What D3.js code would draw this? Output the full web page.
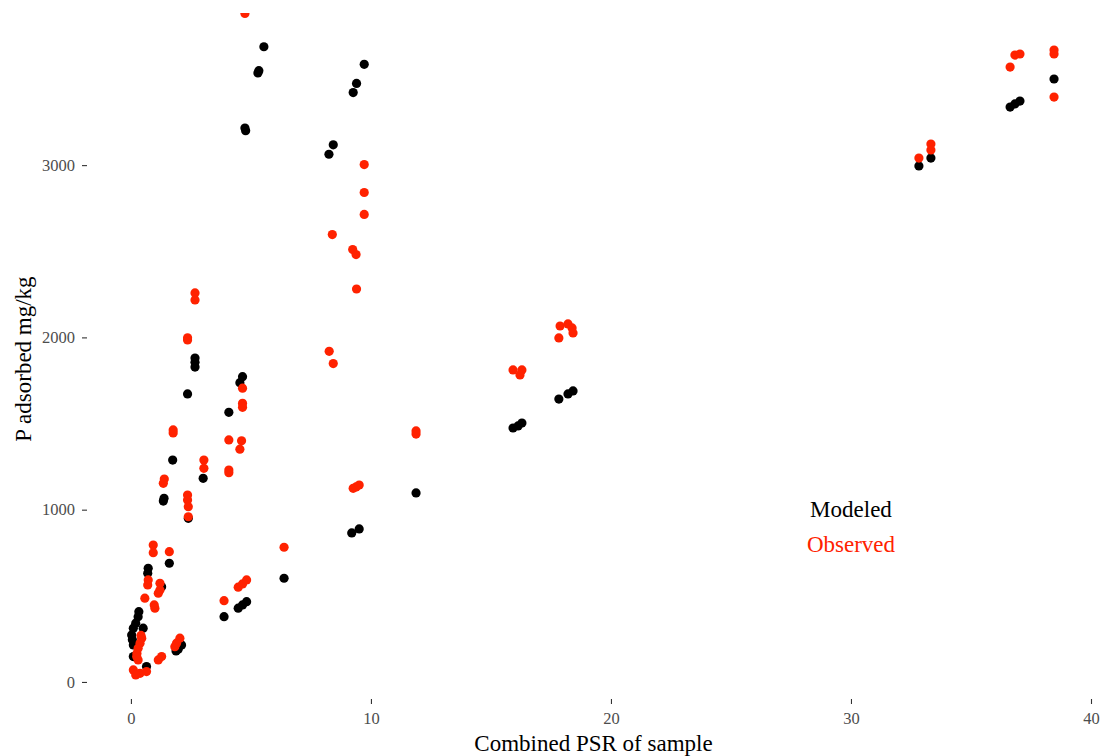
<!DOCTYPE html>
<html>
<head>
<meta charset="utf-8">
<script src="https://cdn.jsdelivr.net/npm/d3@7"></script>
<style>
  html, body { margin: 0; padding: 0; background: #ffffff; }
  svg { display: block; font-family: "Liberation Serif", "DejaVu Serif", serif; }
</style>
</head>
<body>
<svg id="chart" width="1103" height="756"></svg>
<script>
// [combined PSR, P adsorbed mg/kg]
const modeled = [
  [32.83,2995],[33.33,3041],[36.63,3337],[36.83,3355],[37.04,3372],[38.46,3500],
  [17.83,1642],[18.21,1672],[18.42,1689],[15.92,1474],[16.13,1486],[16.29,1503],[11.88,1097],
  [9.72,3585],[9.40,3474],[9.26,3421],[8.43,3118],[8.25,3063],[9.20,865],[9.51,888],
  [5.54,3687],[5.33,3548],[5.29,3535],[4.78,3200],[4.75,3215],
  [2.67,1880],[2.67,1855],[2.67,1828],[2.36,1672],[4.65,1772],[4.54,1737],[4.08,1565],
  [1.74,1288],[3.01,1182],[1.38,1066],[1.35,1050],[2.39,950],[1.60,689],[6.38,602],
  [3.88,379],[4.47,428],[4.65,447],[4.82,466],[2.11,215],[1.97,190],[1.88,180],
  [0.72,660],[0.70,631],[0.33,408],[0.30,379],[0.20,341],[0.10,312],[0.51,312],
  [0.03,273],[0.10,215],[0.06,245],[0.10,147],[0.65,89],[1.28,553]
];
const observed = [
  [32.83,3041],[33.33,3122],[33.33,3088],[36.63,3569],[36.83,3639],[37.04,3645],
  [38.46,3668],[38.46,3645],[38.46,3395],
  [17.88,2066],[18.21,2078],[18.38,2055],[18.42,2026],[17.83,1997],
  [15.92,1811],[16.29,1811],[16.21,1782],[11.88,1439],[11.88,1457],
  [9.72,3003],[9.72,2841],[9.72,2714],[8.39,2597],[9.24,2510],[9.38,2481],[9.40,2281],
  [8.26,1919],[8.43,1848],[9.26,1124],[9.38,1132],[9.51,1143],
  [4.75,3880],[2.67,2258],[2.67,2217],[2.36,1998],[2.36,1985],[4.65,1705],[4.65,1617],
  [4.65,1594],[1.76,1463],[1.76,1445],[4.08,1405],[4.61,1400],[4.54,1351],[3.04,1288],
  [3.04,1240],[4.08,1230],[4.08,1215],[1.39,1178],[1.35,1153],[2.36,1085],[2.36,1056],
  [2.39,1017],[2.39,959],[0.93,795],[0.93,750],[1.60,756],[6.38,782],[3.88,472],
  [4.47,550],[4.65,569],[4.82,592],
  [0.72,592],[0.70,563],[1.21,573],[1.21,534],[1.14,515],[0.58,486],[0.97,447],[1.00,428],
  [0.45,254],[0.42,270],[0.38,225],[0.30,196],[0.25,165],[2.04,254],[1.90,225],[1.83,205],
  [0.24,147],[0.30,128],[1.28,147],[1.14,128],[0.10,70],[0.38,50],[0.65,60],[0.20,41]
];
const xTicks = [0, 10, 20, 30, 40];
const yTicks = [0, 1000, 2000, 3000];
const legendItems = [
  { label: "Modeled",  x: 30, y: 1000, color: "#000000" },
  { label: "Observed", x: 30, y: 800,  color: "#ff2200" }
];
const xTitle = "Combined PSR of sample";
const yTitle = "P adsorbed mg/kg";

const svg = d3.select("#chart");
const panel = { left: 87, right: 1100, top: 13, bottom: 699 };

const x = d3.scaleLinear().domain([-1.83, 40.375]).range([panel.left, panel.right]);
const y = d3.scaleLinear().domain([-99, 3883]).range([panel.bottom, panel.top]);

svg.append("defs").append("clipPath").attr("id", "panel-clip")
  .append("rect")
  .attr("x", panel.left).attr("y", panel.top)
  .attr("width", panel.right - panel.left).attr("height", panel.bottom - panel.top);

// axes: ticks and labels only, no axis line
const xAxis = svg.append("g")
  .attr("transform", `translate(0,${panel.bottom})`)
  .call(d3.axisBottom(x).tickValues(xTicks).tickFormat(d3.format("d")).tickSize(5).tickPadding(8));
const yAxis = svg.append("g")
  .attr("transform", `translate(${panel.left},0)`)
  .call(d3.axisLeft(y).tickValues(yTicks).tickFormat(d3.format("d")).tickSize(5).tickPadding(7));
[xAxis, yAxis].forEach(g => {
  g.select(".domain").remove();
  g.selectAll(".tick line").attr("stroke", "#333333").attr("stroke-width", 1.1);
  g.selectAll(".tick text")
    .attr("fill", "#4d4d4d")
    .style("font-family", '"Liberation Serif", serif')
    .style("font-size", "16.5px");
});

// points: modeled underneath, observed on top
const plot = svg.append("g").attr("clip-path", "url(#panel-clip)");
plot.selectAll("circle.modeled").data(modeled).enter().append("circle")
  .attr("class", "modeled")
  .attr("cx", d => x(d[0])).attr("cy", d => y(d[1]))
  .attr("r", 4.6).attr("fill", "#000000");
plot.selectAll("circle.observed").data(observed).enter().append("circle")
  .attr("class", "observed")
  .attr("cx", d => x(d[0])).attr("cy", d => y(d[1]))
  .attr("r", 4.6).attr("fill", "#ff2200");

// text legend placed in data space
svg.selectAll("text.legend").data(legendItems).enter().append("text")
  .attr("class", "legend")
  .attr("x", d => x(d.x)).attr("y", d => y(d.y))
  .attr("text-anchor", "middle").attr("dominant-baseline", "central")
  .attr("fill", d => d.color)
  .style("font-size", "23px")
  .text(d => d.label);

// axis titles
svg.append("text")
  .attr("x", (panel.left + panel.right) / 2).attr("y", 751)
  .attr("text-anchor", "middle").attr("fill", "#000000")
  .style("font-size", "23px")
  .text(xTitle);
svg.append("text")
  .attr("transform", `translate(31,${(panel.top + panel.bottom) / 2 + 3}) rotate(-90)`)
  .attr("text-anchor", "middle").attr("fill", "#000000")
  .style("font-size", "23px")
  .text(yTitle);
</script>
</body>
</html>
